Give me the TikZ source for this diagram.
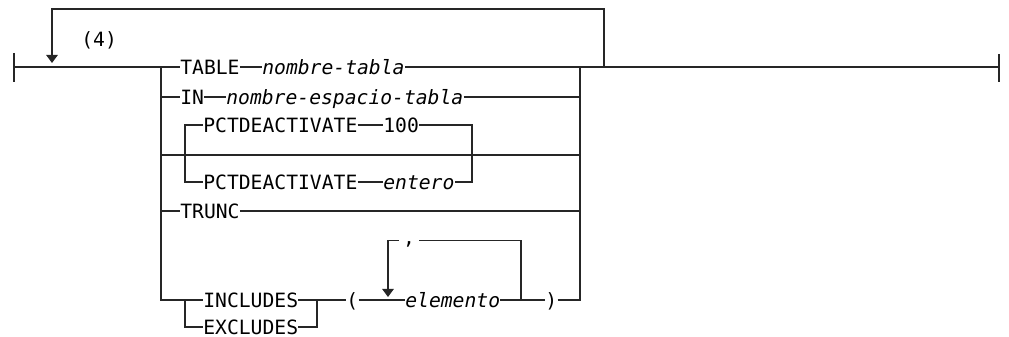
\documentclass[tikz,border=0pt]{standalone}
\usepackage{fontspec}
\setmonofont{DejaVu Sans Mono}
\usepackage{tikz}
\usetikzlibrary{arrows.meta,positioning}

\begin{document}
\begin{tikzpicture}[
  x=0.02cm, y=-0.02cm,
  every node/.style={inner sep=0pt, anchor=west, text height=8.2pt, text depth=0pt, font=\ttfamily\fontsize{11.2}{14}\selectfont},
  var/.style={font=\ttfamily\itshape\fontsize{11.2}{14}\selectfont},
  rail/.style={draw, line width=0.65pt, black!85},
  back/.style={rail, -{Triangle[width=6.6pt, length=4.6pt]}}
]
  \useasboundingbox (0,0) rectangle (1009,337);

  % junctions of the rails
  \coordinate (start) at (14,67);
  \coordinate (finish) at (999,67);
  \coordinate (bl) at (161,67);
  \coordinate (br) at (580,67);
  \coordinate (loopj) at (604,67);
  \coordinate (looptl) at (52,9);
  \coordinate (loopend) at (52,63);
  \coordinate (pl) at (185,155);
  \coordinate (pr) at (472,155);
  \coordinate (xl) at (185,300);
  \coordinate (ie) at (317,300);
  \coordinate (lr) at (521,300);
  \coordinate (ll) at (388,297);

  % keywords and variables
  \node (four) at (81,39) {(4)};
  \node (tbl) at (180,67) {TABLE};
  \node[var] (tblname) at (262,67) {nombre-tabla};
  \node (inkw) at (180,97) {IN};
  \node[var] (spname) at (226,97) {nombre-espacio-tabla};
  \node (pct1) at (203,125) {PCTDEACTIVATE};
  \node (pctval) at (383,125) {100};
  \node (pct2) at (203,182) {PCTDEACTIVATE};
  \node[var] (pctint) at (383,182) {entero};
  \node (trunc) at (180,211) {TRUNC};
  \node (incl) at (203,300) {INCLUDES};
  \node (excl) at (203,327) {EXCLUDES};
  \node (lpar) at (346,300) {(};
  \node[var] (elem) at (405,300) {elemento};
  \node (rpar) at (545,300) {)};
  \node[anchor=center, inner xsep=2.3pt, text height=0pt] (comma) at (409,245) {,};

  % main line and its ends
  \draw[rail] (start) -- (tbl.west);
  \draw[rail] (br) -- (finish);
  \draw[rail] (start) ++(0,-14) -- ++(0,29);
  \draw[rail] (finish) ++(0,-13) -- ++(0,28);
  \draw[back] (loopj) |- (looptl) -- (loopend);

  % choices
  \draw[rail] (tbl.east) -- (tblname.west);
  \draw[rail] (tblname.east) -- (br);
  \draw[rail] (inkw.west -| bl) -- (inkw.west);
  \draw[rail] (inkw.east) -- (spname.west);
  \draw[rail] (spname.east) -- (spname.east -| br);
  \draw[rail] (pl -| bl) -- (pl -| br);
  \draw[rail] (pct1.west) -| (pl) |- (pct2.west);
  \draw[rail] (pct1.east) -- (pctval.west);
  \draw[rail] (pctval.east) -| (pr) |- (pctint.east);
  \draw[rail] (pct2.east) -- (pctint.west);
  \draw[rail] (trunc.west -| bl) -- (trunc.west);
  \draw[rail] (trunc.east) -- (trunc.east -| br);
  \draw[rail] (bl) |- (incl.west);
  \draw[rail] (xl) |- (excl.west);
  \draw[rail] (incl.east) -- (ie);
  \draw[rail] (excl.east) -| (ie);
  \draw[rail] (ie) -- (lpar.west);
  \draw[rail] (lpar.east) -- (elem.west);
  \draw[rail] (elem.east) -- (rpar.west);
  \draw[rail] (rpar.east) -| (br);

  % repeat of elemento
  \draw[rail] (lr) |- ([yshift=2.8pt]comma.east);
  \draw[back] ([yshift=2.8pt]comma.west) -| (ll);
\end{tikzpicture}
\end{document}
